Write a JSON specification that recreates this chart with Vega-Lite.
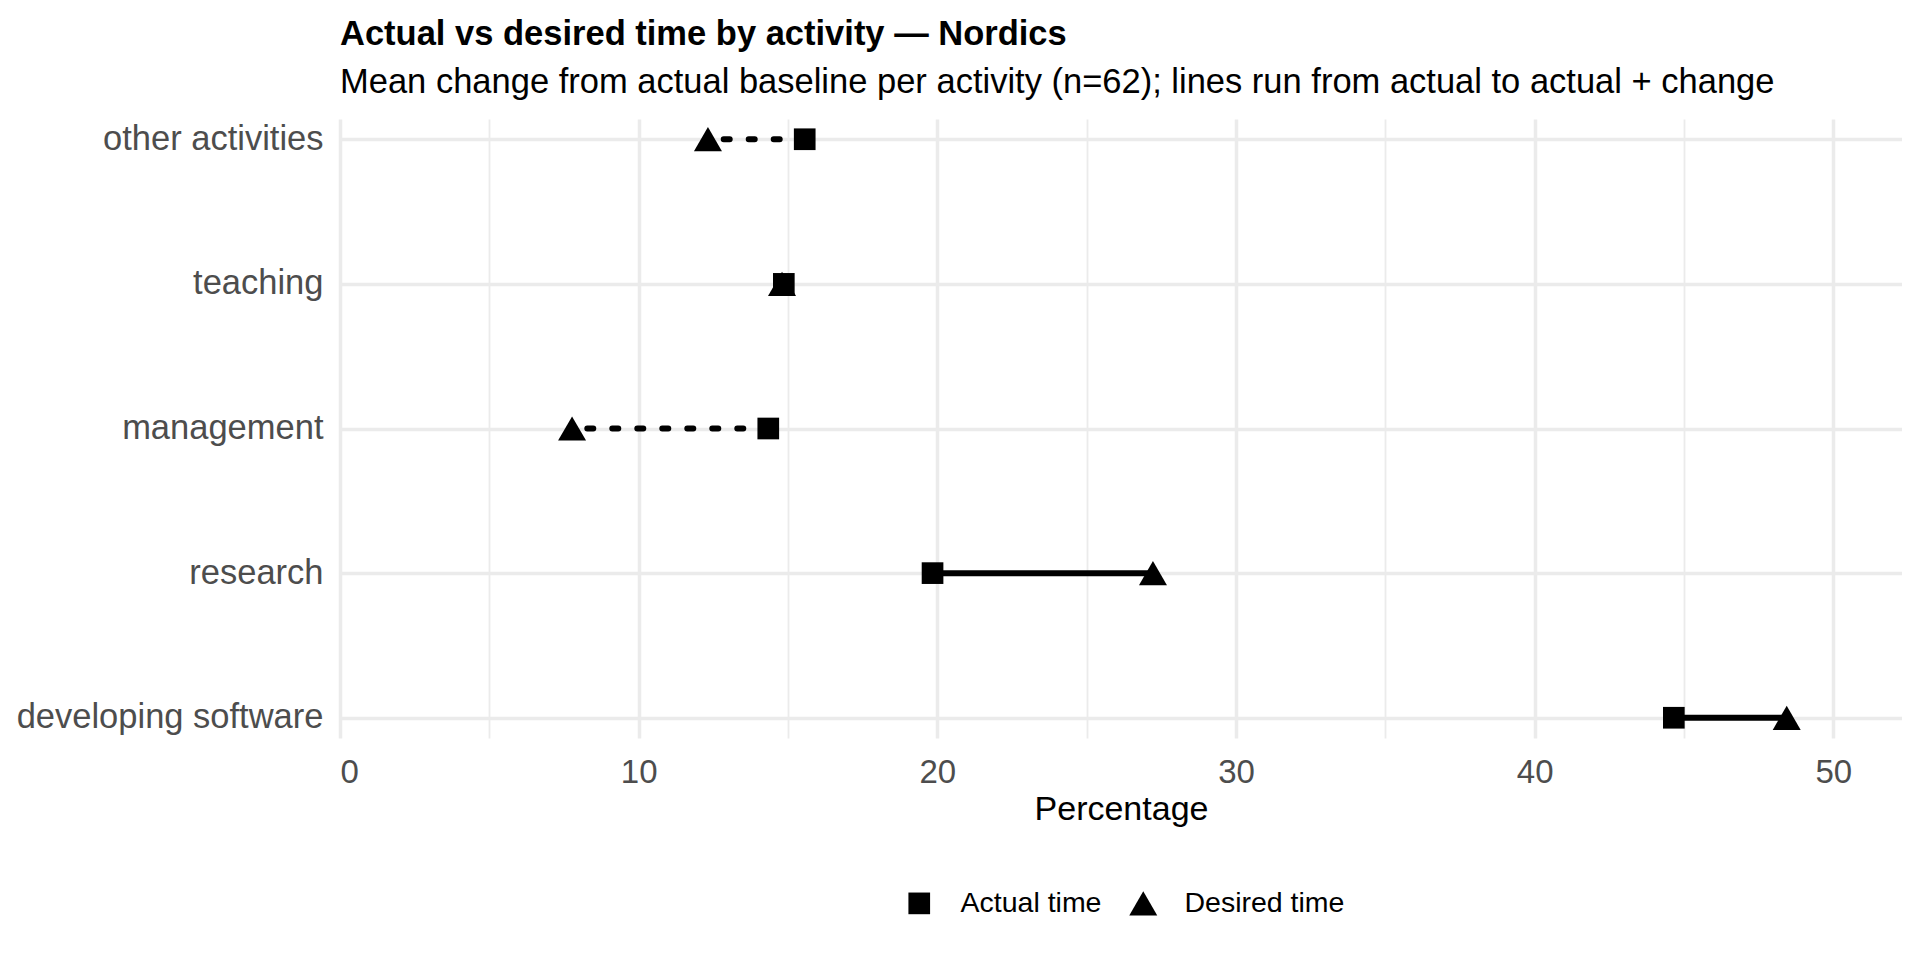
{
  "$schema": "https://vega.github.io/schema/vega-lite/v6.json",
  "width": 1562,
  "height": 619,
  "padding": {"left": 16, "top": 16, "right": 0, "bottom": 0},
  "background": "white",
  "title": {
    "text": "Actual vs desired time by activity — Nordics",
    "subtitle": "Mean change from actual baseline per activity (n=62); lines run from actual to actual + change",
    "anchor": "start",
    "frame": "group",
    "font": "Liberation Sans",
    "fontSize": 34.5,
    "fontWeight": "bold",
    "color": "black",
    "subtitleFont": "Liberation Sans",
    "subtitleFontSize": 34.5,
    "subtitleColor": "black",
    "subtitlePadding": 14,
    "offset": 18.5
  },
  "data": {
    "values": [
      {"activity": "other activities", "Actual time": 15.56, "Desired time": 12.32},
      {"activity": "teaching", "Actual time": 14.86, "Desired time": 14.80},
      {"activity": "management", "Actual time": 14.34, "Desired time": 7.77},
      {"activity": "research", "Actual time": 19.84, "Desired time": 27.22},
      {"activity": "developing software", "Actual time": 44.66, "Desired time": 48.44}
    ]
  },
  "encoding": {
    "y": {
      "field": "activity",
      "type": "nominal",
      "title": null,
      "scale": {
        "type": "point",
        "domain": ["other activities", "teaching", "management", "research", "developing software"],
        "padding": 0.14
      },
      "axis": {
        "labelFont": "Liberation Sans",
        "labelFontSize": 34.5,
        "labelColor": "#4D4D4D",
        "labelPadding": 17,
        "labelLimit": 600,
        "ticks": false,
        "tickSize": 0,
        "domain": false,
        "grid": true,
        "gridColor": "#EBEBEB",
        "gridWidth": 3.5
      }
    }
  },
  "layer": [
    {
      "transform": [{"filter": "datum['Desired time'] >= datum['Actual time']"}],
      "mark": {"type": "rule", "strokeWidth": 6, "color": "black"},
      "encoding": {
        "x": {
          "field": "Actual time",
          "type": "quantitative",
          "title": "Percentage",
          "scale": {"domain": [0, 52.3], "nice": false, "zero": false},
          "axis": {
            "values": [0, 5, 10, 15, 20, 25, 30, 35, 40, 45, 50],
            "labelExpr": "datum.value % 10 === 0 ? datum.label : ''",
            "labelFont": "Liberation Sans",
            "labelFontSize": 33,
            "labelColor": "#4D4D4D",
            "labelPadding": 18,
            "ticks": false,
            "tickSize": 0,
            "domain": false,
            "grid": true,
            "gridColor": "#EBEBEB",
            "gridWidth": {"condition": {"test": "datum.value % 10 === 0", "value": 3.5}, "value": 1.8},
            "titleFont": "Liberation Sans",
            "titleFontSize": 34,
            "titleFontWeight": "normal",
            "titleColor": "black",
            "titlePadding": 3
          }
        },
        "x2": {"field": "Desired time"}
      }
    },
    {
      "transform": [{"filter": "datum['Desired time'] < datum['Actual time']"}],
      "mark": {"type": "rule", "strokeWidth": 6, "color": "black", "strokeDash": [6, 19], "strokeCap": "round"},
      "encoding": {
        "x": {"field": "Actual time", "type": "quantitative", "title": "Percentage"},
        "x2": {"field": "Desired time"}
      }
    },
    {
      "transform": [{"fold": ["Actual time", "Desired time"], "as": ["series", "percentage"]}],
      "mark": {"type": "point", "filled": true, "opacity": 1, "color": "black", "strokeWidth": 0},
      "encoding": {
        "x": {"field": "percentage", "type": "quantitative", "title": "Percentage"},
        "shape": {
          "field": "series",
          "type": "nominal",
          "title": null,
          "scale": {"domain": ["Actual time", "Desired time"], "range": ["square", "triangle-up"]}
        },
        "size": {
          "field": "series",
          "type": "nominal",
          "title": null,
          "scale": {"domain": ["Actual time", "Desired time"], "range": [470, 784]}
        }
      }
    }
  ],
  "config": {
    "view": {"stroke": null},
    "legend": {
      "orient": "none",
      "legendX": 565,
      "legendY": 770,
      "direction": "horizontal",
      "labelFont": "Liberation Sans",
      "labelFontSize": 28.5,
      "labelColor": "black",
      "labelOffset": 27,
      "columnPadding": 27,
      "symbolFillColor": "black",
      "symbolStrokeWidth": 0,
      "symbolOpacity": 1,
      "padding": 0
    }
  }
}
